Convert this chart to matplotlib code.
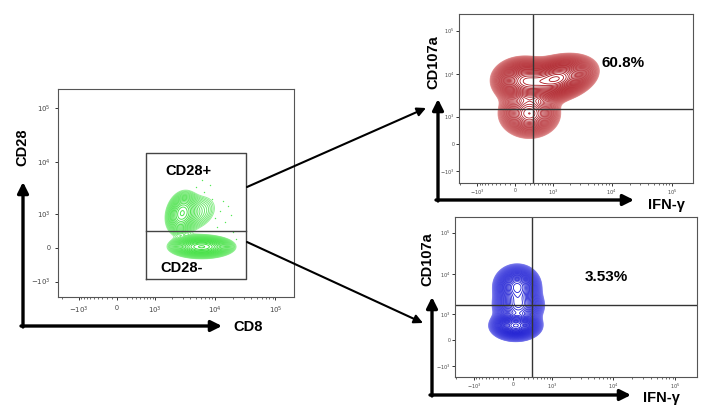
import numpy as np
import matplotlib.pyplot as plt
from matplotlib.colors import to_rgb
from matplotlib.ticker import FixedLocator, FixedFormatter, NullFormatter

plt.rcParams['font.family'] = ['Liberation Sans', 'DejaVu Sans']

# biexponential-like display: asinh with this linear width
W = 500
K = 0.112  # axes fraction per asinh unit

tick_vals = [-1e3, 0, 1e3, 1e4, 1e5]
tick_labels = ['$-10^3$', '0', '$10^3$', '$10^4$', '$10^5$']
minor_vals = [m * 10**e for e in (2, 3, 4) for m in range(2, 10)] + \
             [-m * 100 for m in range(1, 10)] + [-2000]

# populations, in asinh units: (cx, cy, sx, sy, weight, rho)
cd28_blobs = [(3.2, 0.05, 0.48, 0.19, 1.0, 0.0),
              (2.45, 1.5, 0.27, 0.42, 0.35, 0.2),
              (3.0, 1.5, 0.45, 0.45, 0.08, 0.3)]
cd28_dots = [(3.7, 1.3), (3.9, 1.6), (3.6, 2.1), (4.1, 1.1), (4.3, 1.4), (3.3, 2.4),
             (3.0, 2.6), (3.8, 0.9), (4.0, 2.0), (4.4, 0.7), (2.9, 2.3), (3.5, 2.7),
             (4.2, 1.8), (3.2, 2.9), (4.5, 0.4)]
pos_blobs = [(1.6, 3.45, 0.6, 0.5, 1.0, 0.3),
             (0.35, 3.35, 0.5, 0.5, 0.75, 0.0),
             (0.55, 1.6, 0.5, 0.55, 0.45, 0.0)]
neg_blobs = [(0.1, 0.8, 0.37, 0.33, 1.0, 0.0),
             (0.15, 3.0, 0.36, 0.5, 0.6, 0.0),
             (0.2, 1.9, 0.4, 0.45, 0.45, 0.0)]

gate_x = [668, 33000]
gate_y = [-880, 14600]
gate_split = 390
quad_top = (366, 1580)
quad_bot = (370, 1700)


def span(f0):
    return (-W * np.sinh(f0 / K), W * np.sinh((1 - f0) / K))


def density(ux, uy, blobs):
    z = np.zeros_like(ux)
    for cx, cy, sx, sy, w, r in blobs:
        dx = (ux - cx) / sx
        dy = (uy - cy) / sy
        z += w * np.exp(-(dx * dx - 2 * r * dx * dy + dy * dy) / (2 * (1 - r * r)))
    return z


def flow_axes(rect, fx0, fy0, fs, pad):
    ax = fig.add_axes(rect)
    ax.set_xscale('asinh', linear_width=W)
    ax.set_yscale('asinh', linear_width=W)
    ax.set_xlim(*span(fx0))
    ax.set_ylim(*span(fy0))
    for axis in (ax.xaxis, ax.yaxis):
        axis.set_major_locator(FixedLocator(tick_vals))
        axis.set_major_formatter(FixedFormatter(tick_labels))
        axis.set_minor_locator(FixedLocator(minor_vals))
        axis.set_minor_formatter(NullFormatter())
    ax.tick_params(which='major', length=2.5, width=0.7, color='#333',
                   labelsize=fs, labelcolor='#444', pad=pad)
    ax.tick_params(which='minor', length=1.5, width=0.5, color='#333')
    ax.tick_params(axis='y', which='minor', length=0)
    for s in ax.spines.values():
        s.set_color('#555')
        s.set_linewidth(0.8)
    return ax


def draw_pop(ax, blobs, outer, inner, n, lw):
    u = np.linspace(-3, 7.5, 400)
    UX, UY = np.meshgrid(u, u)
    Z = density(UX, UY, blobs)
    levels = Z.max() * np.geomspace(0.025, 0.97, n)
    c0, c1 = np.array(to_rgb(outer)), np.array(to_rgb(inner))
    t = np.linspace(0, 1, n) ** 0.5
    cols = [tuple(c0 + (c1 - c0) * ti) for ti in t]
    ax.contour(W * np.sinh(UX), W * np.sinh(UY), Z, levels=levels,
               colors=cols, linewidths=lw)


fig = plt.figure(figsize=(7.13, 4.07), dpi=100)
H = 407.0
FW = 713.0

# left plot
axl = flow_axes([58 / FW, (H - 297) / H, 236 / FW, 208 / H], 0.25, 0.236, 5, 3)
draw_pop(axl, cd28_blobs, '#9af09a', '#3ee03e', 24, 0.7)
dx, dy = zip(*cd28_dots)
axl.scatter(W * np.sinh(np.array(dx)), W * np.sinh(np.array(dy)), s=1.0,
            color='#55e855', lw=0)
axl.plot([gate_x[0], gate_x[1], gate_x[1], gate_x[0], gate_x[0]],
         [gate_y[0], gate_y[0], gate_y[1], gate_y[1], gate_y[0]], color='#444', lw=1)
axl.plot(gate_x, [gate_split, gate_split], color='#444', lw=1)

# top right
axt = flow_axes([459 / FW, (H - 183) / H, 234 / FW, 169 / H], 0.239, 0.231, 3.6, 1)
draw_pop(axt, pos_blobs, '#e69a9a', '#a8141c', 42, 0.6)
axt.axvline(quad_top[0], color='#333', lw=1)
axt.axhline(quad_top[1], color='#333', lw=1)

# bottom right
axb = flow_axes([455 / FW, (H - 377) / H, 242 / FW, 160 / H], 0.24, 0.231, 3.6, 1)
draw_pop(axb, neg_blobs, '#8c8cf2', '#1414d0', 42, 0.6)
axb.axvline(quad_bot[0], color='#333', lw=1)
axb.axhline(quad_bot[1], color='#333', lw=1)

# overlay in pixel coordinates for arrows and labels
ov = fig.add_axes([0, 0, 1, 1], zorder=10)
ov.set_xlim(0, FW)
ov.set_ylim(H, 0)
ov.axis('off')
ov.patch.set_alpha(0)


def arrow(p0, p1, lw, ms):
    ov.annotate('', xy=p1, xytext=p0,
                arrowprops=dict(arrowstyle='-|>', lw=lw, color='k',
                                mutation_scale=ms, shrinkA=0, shrinkB=0))


arrow((23, 327), (23, 182), 2.4, 16)
arrow((21, 326), (222, 326), 2.4, 16)
arrow((438, 201), (438, 99), 2.4, 16)
arrow((436, 200), (634, 200), 2.4, 16)
arrow((432, 396), (432, 297), 2.4, 16)
arrow((430, 395), (631, 395), 2.4, 16)
arrow((247, 187), (426, 108), 1.5, 13)
arrow((247, 242), (423, 323), 1.5, 13)

bold = dict(fontweight='bold', color='k')
ov.text(22, 147, 'CD28', rotation=90, ha='center', va='center', fontsize=10.5, **bold)
ov.text(233, 327, 'CD8', ha='left', va='center', fontsize=10.5, **bold)
ov.text(433, 62, 'CD107a', rotation=90, ha='center', va='center', fontsize=10.5, **bold)
ov.text(427, 259, 'CD107a', rotation=90, ha='center', va='center', fontsize=10.5, **bold)
ov.text(648, 205, 'IFN-γ', ha='left', va='center', fontsize=10.5, **bold)
ov.text(643, 398, 'IFN-γ', ha='left', va='center', fontsize=10.5, **bold)
ov.text(601, 63, '60.8%', ha='left', va='center', fontsize=11, **bold)
ov.text(585, 277, '3.53%', ha='left', va='center', fontsize=11, **bold)
ov.text(165, 171, 'CD28+', ha='left', va='center', fontsize=10.5, **bold)
ov.text(160, 268, 'CD28-', ha='left', va='center', fontsize=10.5, **bold)

fig.savefig('out.png', dpi=100)
